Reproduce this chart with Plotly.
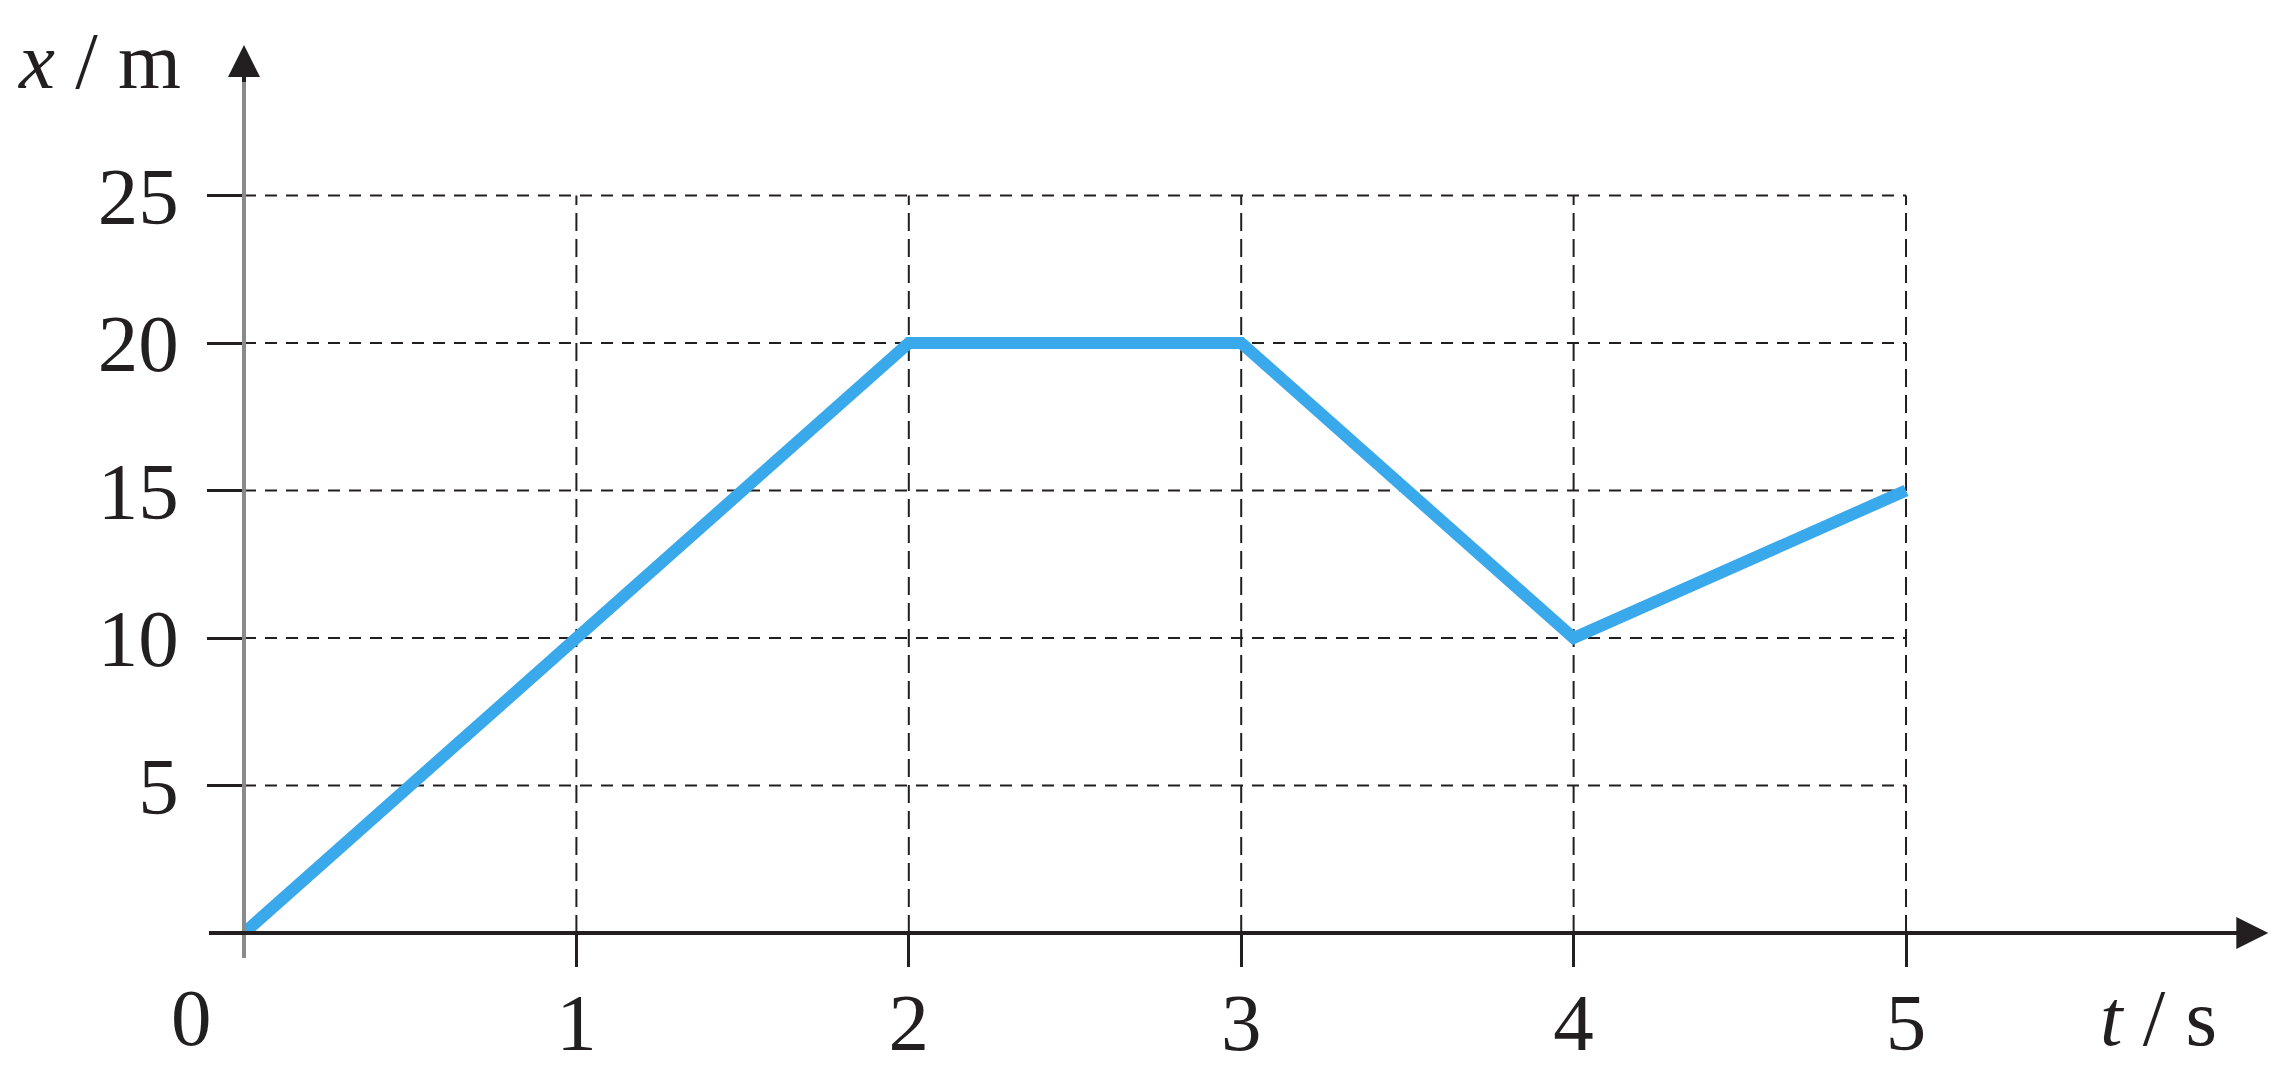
import plotly.graph_objects as go

# position-time data
t_s = [0, 2, 3, 4, 5]
x_m = [0, 20, 20, 10, 15]

t_ticks = [1, 2, 3, 4, 5]
x_ticks = [5, 10, 15, 20, 25]

serif = "Liberation Serif"
ink = "#231f20"

fig = go.Figure()
fig.add_trace(go.Scatter(x=t_s, y=x_m, mode="lines",
                         line=dict(color="#3aa9ec", width=12),
                         cliponaxis=False, showlegend=False))

# dashed grid limited to the 0..5 s / 0..25 m box
for v in x_ticks:
    fig.add_shape(type="line", xref="x", yref="y", x0=0, x1=5, y0=v, y1=v,
                  line=dict(color=ink, width=2, dash="12px,9px"), layer="below")
for v in t_ticks:
    fig.add_shape(type="line", xref="x", yref="y", x0=v, x1=v, y0=0, y1=25,
                  line=dict(color=ink, width=2, dash="18px,8px"), layer="below")

# axes drawn as arrows (annotations are not clipped to the plot area)
fig.add_annotation(x=0, y=29.0, ax=0, ay=-0.9, xref="x", yref="y", axref="x", ayref="y",
                   text="", showarrow=True, arrowhead=0, arrowwidth=4,
                   arrowcolor="#8a8a8a")
fig.add_annotation(x=0, y=30.1, ax=0, ay=28.8, xref="x", yref="y", axref="x", ayref="y",
                   text="", showarrow=True, arrowhead=2, arrowsize=1.6, arrowwidth=4,
                   arrowcolor=ink)
fig.add_annotation(x=6.09, y=0, ax=-0.11, ay=0, xref="x", yref="y", axref="x", ayref="y",
                   text="", showarrow=True, arrowhead=2, arrowsize=1.6, arrowwidth=4,
                   arrowcolor=ink)

# axis titles and origin label
fig.add_annotation(x=-0.1125, y=0.985, xref="paper", yref="paper", text="<i>x</i> / m",
                   showarrow=False, xanchor="left", yanchor="middle",
                   font=dict(family=serif, size=81, color=ink))
fig.add_annotation(x=0.915, y=-0.0966, xref="paper", yref="paper", text="<i>t</i> / s",
                   showarrow=False, xanchor="left", yanchor="middle",
                   font=dict(family=serif, size=81, color=ink))
fig.add_annotation(x=-0.0257, y=-0.0966, xref="paper", yref="paper", text="0",
                   showarrow=False, xanchor="center", yanchor="middle",
                   font=dict(family=serif, size=81, color=ink))

fig.update_xaxes(range=[0, 6.095], tickvals=t_ticks, ticks="outside", ticklen=33,
                 tickwidth=3, tickcolor=ink, showgrid=False, zeroline=False,
                 showline=False, ticklabelstandoff=-14,
                 tickfont=dict(family=serif, size=81, color=ink))
fig.update_yaxes(range=[0, 30], tickvals=x_ticks, ticks="outside", ticklen=36,
                 tickwidth=3, tickcolor=ink, showgrid=False, zeroline=False,
                 showline=False, ticklabelstandoff=12,
                 tickfont=dict(family=serif, size=81, color=ink))

fig.update_layout(width=2284, height=1072, autosize=False,
                  margin=dict(l=236, r=22, t=40, b=142),
                  plot_bgcolor="white", paper_bgcolor="white")

fig.write_html("out.html")
